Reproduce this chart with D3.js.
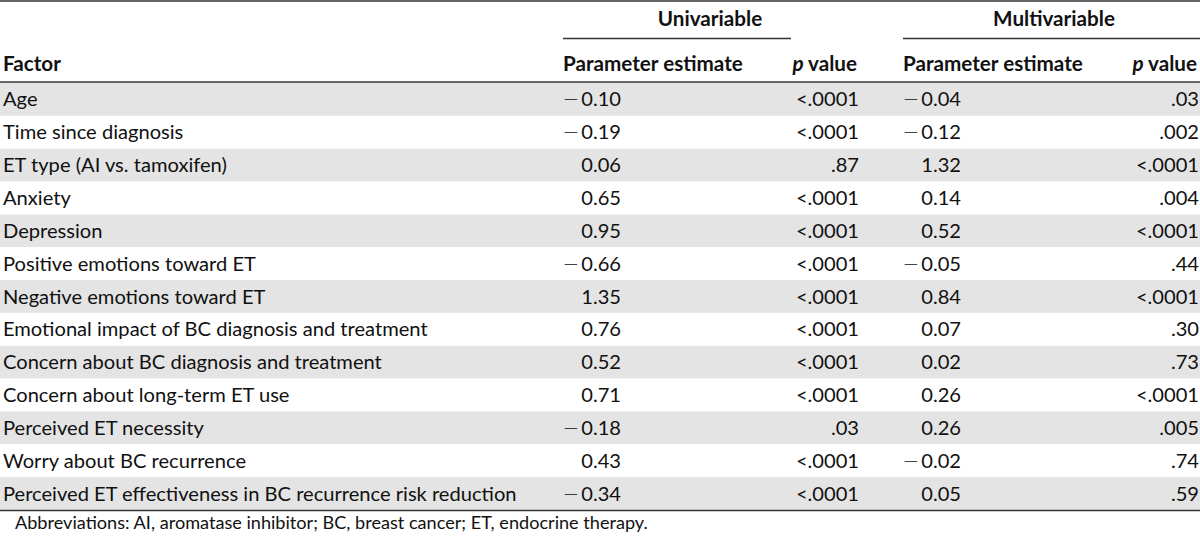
<!DOCTYPE html>
<html><head><meta charset="utf-8">
<script src="https://cdn.jsdelivr.net/npm/d3@7"></script>
<style>html,body{margin:0;padding:0;background:#fff;}svg{display:block;}</style>
</head><body>
<svg id="c" width="1200" height="536"></svg>
<script>
const factors = ["Age","Time since diagnosis","ET type (AI vs. tamoxifen)","Anxiety","Depression","Positive emotions toward ET","Negative emotions toward ET","Emotional impact of BC diagnosis and treatment","Concern about BC diagnosis and treatment","Concern about long-term ET use","Perceived ET necessity","Worry about BC recurrence","Perceived ET effectiveness in BC recurrence risk reduction"];
const uniEstimate = [-0.10,-0.19,0.06,0.65,0.95,-0.66,1.35,0.76,0.52,0.71,-0.18,0.43,-0.34];
const uniP = ["<.0001","<.0001",".87","<.0001","<.0001","<.0001","<.0001","<.0001","<.0001","<.0001",".03","<.0001","<.0001"];
const multiEstimate = [-0.04,-0.12,1.32,0.14,0.52,-0.05,0.84,0.07,0.02,0.26,0.26,-0.02,0.05];
const multiP = [".03",".002","<.0001",".004","<.0001",".44","<.0001",".30",".73","<.0001",".005",".74",".59"];
const groups = ["Univariable","Multivariable"];
const colHeaders = ["Factor","Parameter estimate","p value","Parameter estimate","p value"];
const footnote = "Abbreviations: AI, aromatase inhibitor; BC, breast cancer; ET, endocrine therapy.";

const FONT = "Lato, 'Open Sans', sans-serif";
const svg = d3.select("#c").style("font-family", FONT);
const W = 1200;
const y = d3.scaleBand().domain(d3.range(factors.length)).range([83, 510]).padding(0);
const fmtAbs = v => d3.format(".2f")(Math.abs(v));
const textColor = "#111";

const measure = (txt, weight) => {
  const p = svg.append("text").attr("font-size", 20).attr("font-weight", weight).text(txt);
  const w = p.node().getComputedTextLength(); p.remove(); return w;
};
const fs = 20 * 514 / measure(factors[12], "normal");
const fsB = 20 * 180 / measure("Parameter estimate", "bold");
const fsF = 20 * 633 / measure(footnote, "normal");

// row backgrounds
svg.append("g").selectAll("rect").data(factors).join("rect")
  .attr("x", 0).attr("width", W)
  .attr("y", (d,i) => y(i)).attr("height", y.bandwidth())
  .attr("fill", (d,i) => i % 2 === 0 ? "#e4e4e4" : "#ffffff");

// rules
const rule = (x1,x2,yy,w) => svg.append("line").attr("x1",x1).attr("x2",x2).attr("y1",yy).attr("y2",yy)
  .attr("stroke","#333").attr("stroke-width",w);
rule(0, W, 1, 1.5);
rule(563, 791, 38.5, 1.5);
rule(903, W, 38.5, 1.5);
rule(0, W, 82, 1.5);
rule(0, W, 510.5, 1.5);

// group headers
const groupX = [710, 1054];
svg.append("g").selectAll("text").data(groups).join("text")
  .attr("x", (d,i) => groupX[i]).attr("y", 26).attr("text-anchor","middle")
  .attr("font-size", fsB).attr("font-weight", "bold").attr("fill", textColor).text(d => d);

// column headers
const hdrX = [3, 563, 857, 903, 1197];
const hdrAnchor = ["start","start","end","start","end"];
const hdr = svg.append("g").selectAll("text").data(colHeaders).join("text")
  .attr("x", (d,i) => hdrX[i]).attr("y", 71).attr("text-anchor", (d,i) => hdrAnchor[i])
  .attr("font-size", fsB).attr("font-weight", "bold").attr("fill", textColor);
hdr.each(function(d){
  const t = d3.select(this);
  if (d === "p value") {
    t.append("tspan").attr("font-style","italic").text("p");
    t.append("tspan").text(" value");
  } else t.text(d);
});

const rowY = (d,i) => y(i) + y.bandwidth()/2;

// factor labels and p values
[{vals: factors, x: 3, anchor: "start"},
 {vals: uniP, x: 859, anchor: "end"},
 {vals: multiP, x: 1199, anchor: "end"}].forEach(c => {
  svg.append("g").selectAll("text").data(c.vals).join("text")
    .attr("x", c.x).attr("y", rowY).attr("dy", "0.35em").attr("text-anchor", c.anchor)
    .attr("font-size", fs).attr("fill", textColor).text(d => d);
});

// estimates with wide minus sign
[{vals: uniEstimate, x: 621}, {vals: multiEstimate, x: 961}].forEach(c => {
  const t = svg.append("g").selectAll("text").data(c.vals).join("text")
    .attr("x", c.x).attr("y", rowY).attr("dy", "0.35em").attr("text-anchor", "end")
    .attr("font-size", fs).attr("fill", textColor);
  t.each(function(v){
    const s = d3.select(this);
    if (v < 0) {
      s.append("tspan").attr("font-family", "'DejaVu Sans'").attr("font-weight", 300).text("\u2212");
      s.append("tspan").attr("dx", 2).text(fmtAbs(v));
    } else s.text(fmtAbs(v));
  });
});

// footnote
svg.append("text").attr("x", 15).attr("y", 523).attr("dy","0.35em")
  .attr("font-size", fsF).attr("fill", textColor).text(footnote);
</script>
</body></html>
